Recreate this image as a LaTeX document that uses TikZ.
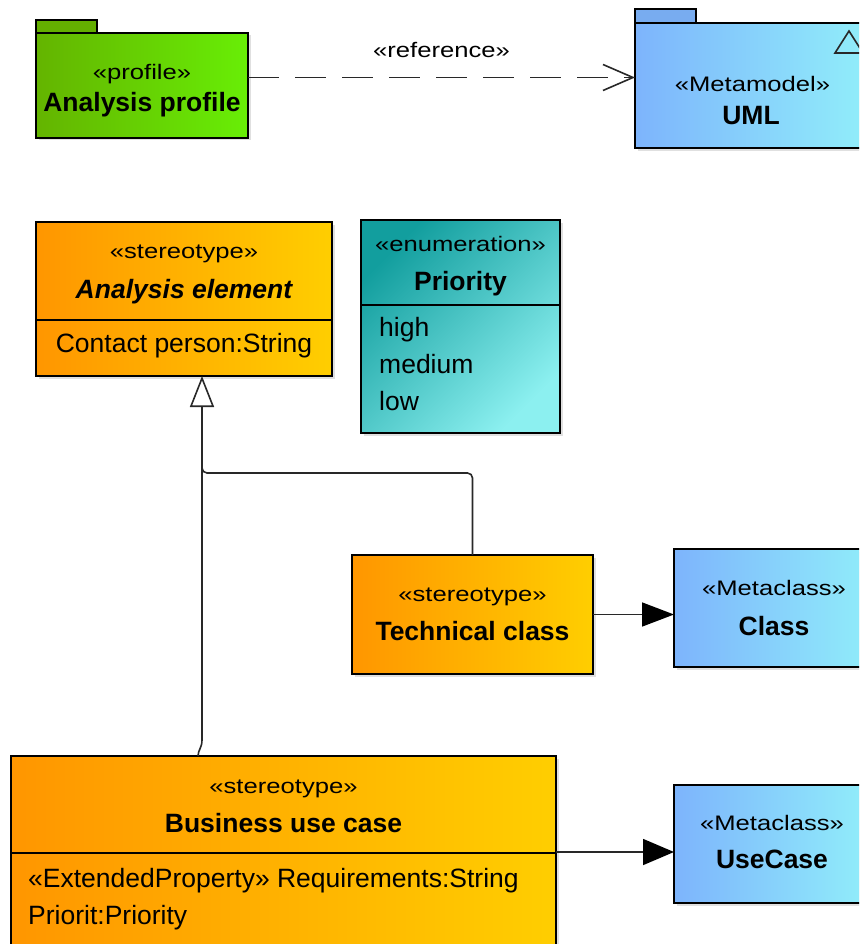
\documentclass[tikz,border=0pt]{standalone}
\usepackage{fontspec}
\setmainfont{Liberation Sans}
\newfontfamily\stereofont{Liberation Sans}[FakeStretch=1.22]
\usetikzlibrary{arrows.meta,shadows}
\definecolor{orL}{RGB}{255,150,0}
\definecolor{orR}{RGB}{255,206,0}
\definecolor{blL}{RGB}{125,180,252}
\definecolor{blR}{RGB}{145,238,250}
\definecolor{grL}{RGB}{100,180,0}
\definecolor{grR}{RGB}{104,238,6}
\definecolor{grT}{RGB}{100,175,0}
\definecolor{blT}{RGB}{120,172,240}
\definecolor{tlL}{RGB}{18,158,158}
\definecolor{tlR}{RGB}{140,240,240}
\definecolor{ln}{RGB}{40,40,40}
\tikzset{
  umlbox/.style={draw=black, line width=1.8pt, anchor=north west, inner sep=0pt, outer sep=0pt,
    drop shadow={shadow xshift=2.5pt, shadow yshift=-2.5pt, opacity=0.12, fill=black}},
  divline/.style={draw=black, line width=1.8pt},
  conn/.style={draw=ln, line width=1.6pt},
  st/.style={font=\stereofont\fontsize{21}{24}\selectfont, inner sep=0pt, anchor=base},
  nm/.style={font=\fontsize{26.5}{30}\selectfont\bfseries, inner sep=0pt, anchor=base},
  attr/.style={font=\fontsize{26.5}{30}\selectfont, inner sep=0pt, anchor=base west},
  orfill/.style={left color=orL, right color=orR},
  blfill/.style={left color=blL, right color=blR},
  grfill/.style={left color=grL, right color=grR},
  tlfill/.style={left color=tlL, right color=tlR, shading angle=45},
}
\begin{document}
\begin{tikzpicture}[x=1pt,y=-1pt]
\useasboundingbox (0,0) rectangle (859,944);
\fill[white] (0,0) rectangle (859,944);
\clip (0,0) rectangle (859,944);

% packages
\node[umlbox, grfill, minimum width=212pt, minimum height=105pt] (ap) at (36,33) {};
\draw[divline, fill=grT] (ap.north west) rectangle ++(61,-13);
\node[st] (apS) at (142,80) {«profile»};
\node[nm] (apN) at (142,112) {Analysis profile};

\node[umlbox, blfill, minimum width=233pt, minimum height=125.5pt] (uml) at (635,22.7) {};
\draw[divline, fill=blT] (uml.north west) rectangle ++(61,-13.7);
\draw[conn] (835,53) -- (849,31) -- (863,53) -- cycle;
\node[st] (umlS) at (752.5,91.7) {«Metamodel»};
\node[nm] (umlN) at (751,125) {UML};

\draw[conn, dash pattern=on 31pt off 16pt, -{Straight Barb[length=30pt,width=26pt,line width=1.6pt]}]
  ([yshift=8pt]ap.east) -- ([yshift=8pt]ap.east -| uml.west)
  node[st, midway, yshift=20pt, anchor=base] (ref) {«reference»};

% Analysis element
\node[umlbox, orfill, minimum width=296pt, minimum height=154pt] (ae) at (36,222) {};
\draw[divline] (ae.west |- 0,320) -- (ae.east |- 0,320);
\node[st] (aeS) at (184,258) {«stereotype»};
\node[nm, font=\fontsize{26.5}{30}\selectfont\bfseries\itshape] (aeN) at (184,298) {Analysis element};
\node[attr, anchor=base] (aeA) at (184,352) {Contact person:String};

% Priority
\node[umlbox, tlfill, minimum width=199pt, minimum height=213pt] (pr) at (361,220) {};
\draw[divline] (pr.west |- 0,305) -- (pr.east |- 0,305);
\node[st] (prS) at (460.5,251) {«enumeration»};
\node[nm] (prN) at (460.5,290) {Priority};
\node[attr] (pr1) at (379,336.7) {high};
\node[attr] (pr2) at (379,373) {medium};
\node[attr] (pr3) at (379,410) {low};

% Technical class
\node[umlbox, orfill, minimum width=241pt, minimum height=119pt] (tc) at (352,555) {};
\node[st] (tcS) at (472.5,601.7) {«stereotype»};
\node[nm] (tcN) at (472.5,640) {Technical class};

% Class
\node[umlbox, blfill, minimum width=200pt, minimum height=118pt] (cls) at (674,549) {};
\node[st] (clsS) at (774,595) {«Metaclass»};
\node[nm] (clsN) at (774,635) {Class};

% Business use case
\node[umlbox, orfill, minimum width=545pt, minimum height=215pt] (buc) at (11,756) {};
\draw[divline] (buc.west |- 0,853) -- (buc.east |- 0,853);
\node[st] (bucS) at (283.5,793) {«stereotype»};
\node[nm] (bucN) at (283.5,832) {Business use case};
\node[attr] (buc1) at (28,887) {«ExtendedProperty» Requirements:String};
\node[attr] (buc2) at (28,924) {Priorit:Priority};

% UseCase
\node[umlbox, blfill, minimum width=196pt, minimum height=118pt] (uc) at (674,785) {};
\node[st] (ucS) at (772,830) {«Metaclass»};
\node[nm] (ucN) at (772,868) {UseCase};

% generalizations
\coordinate (bucT) at ([xshift=-85.5pt]buc.north);
\coordinate (aeB) at ([xshift=18pt]ae.south);
\draw[conn, -{Triangle[open, length=31pt, width=24pt, line width=1.6pt]}]
  (bucT) .. controls (198,750) and (202,748) .. (202,740) -- (aeB);
\draw[conn, rounded corners=5pt] (tc.north) |- (202,473) -- (202,455);

% extensions
\draw[conn, -{Triangle[length=32pt, width=24pt, fill=black, color=black]}] (tc.east) -- (tc.east -| cls.west);
\draw[conn, -{Triangle[length=31pt, width=26pt, fill=black, color=black]}] ([yshift=-96pt]buc.north east) -- ([yshift=-96pt]buc.north east -| uc.west);
\end{tikzpicture}
\end{document}
